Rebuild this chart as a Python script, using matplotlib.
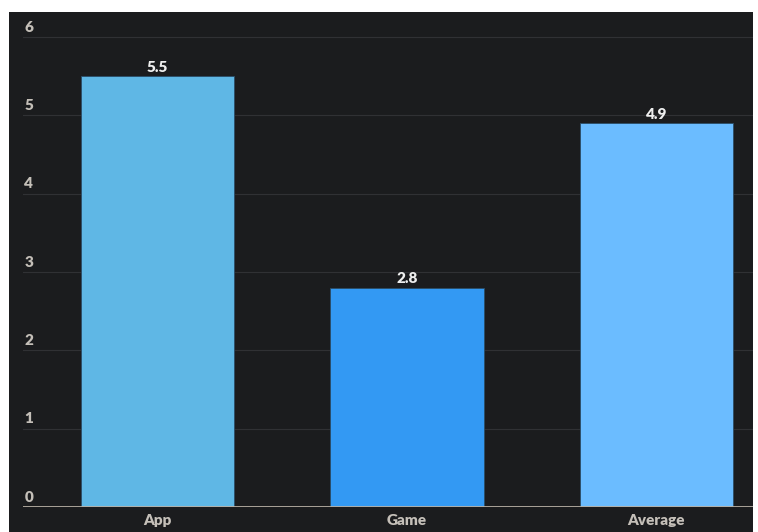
import matplotlib.pyplot as plt
import matplotlib.transforms as mtransforms
from matplotlib.patches import Rectangle

categories = ["App", "Game", "Average"]
values = [5.5, 2.8, 4.9]
bar_colors = ["#5fb7e5", "#3399f3", "#6bbcff"]
y_ticks = [0, 1, 2, 3, 4, 5, 6]

plt.rcParams["font.family"] = ["Lato", "DejaVu Sans"]

W, H = 758, 532
fig = plt.figure(figsize=(W / 100, H / 100), dpi=100, facecolor="white")

# dark panel behind everything
fig.patches.append(Rectangle((9 / W, 0), (753 - 9) / W, (H - 12) / H,
                             transform=fig.transFigure, facecolor="#1b1c1e",
                             edgecolor="none", zorder=-10))

ax = fig.add_axes([23 / W, 25 / H, (753 - 23) / W, (507 - 12) / H])
ax.set_facecolor("none")
ax.set_zorder(1)

x = list(range(len(categories)))
ax.bar(x, values, width=0.615, color=bar_colors,
       edgecolor="#2a4c66", linewidth=0.6, zorder=2)

ax.set_xlim(-0.539, 2.387)
ax.set_ylim(0, 6.32)

# grid lines
for t in y_ticks[1:]:
    ax.axhline(t, color="#303134", linewidth=0.8, zorder=1)
ax.axhline(0, color="#b8b0a4", linewidth=2, zorder=3)

# y labels sit inside the plot, above their grid lines
trans = mtransforms.blended_transform_factory(ax.transAxes, ax.transData)
for t in y_ticks:
    ax.text(0.002, t + 0.07, str(t), transform=trans, ha="left",
            va="baseline", color="#c4bfb8", fontsize=11, fontweight="heavy")

# value labels
for xi, v in zip(x, values):
    ax.text(xi, v + 0.055, f"{v}", ha="center", va="baseline",
            color="#eeeeee", fontsize=11, fontweight="heavy")

ax.set_xticks(x)
ax.set_xticklabels(categories, color="#c4bfb8", fontsize=11,
                   fontweight="heavy")
ax.tick_params(axis="x", length=0, pad=5)
ax.set_yticks([])
for s in ax.spines.values():
    s.set_visible(False)

fig.savefig("out.png", dpi=100, facecolor="white")
